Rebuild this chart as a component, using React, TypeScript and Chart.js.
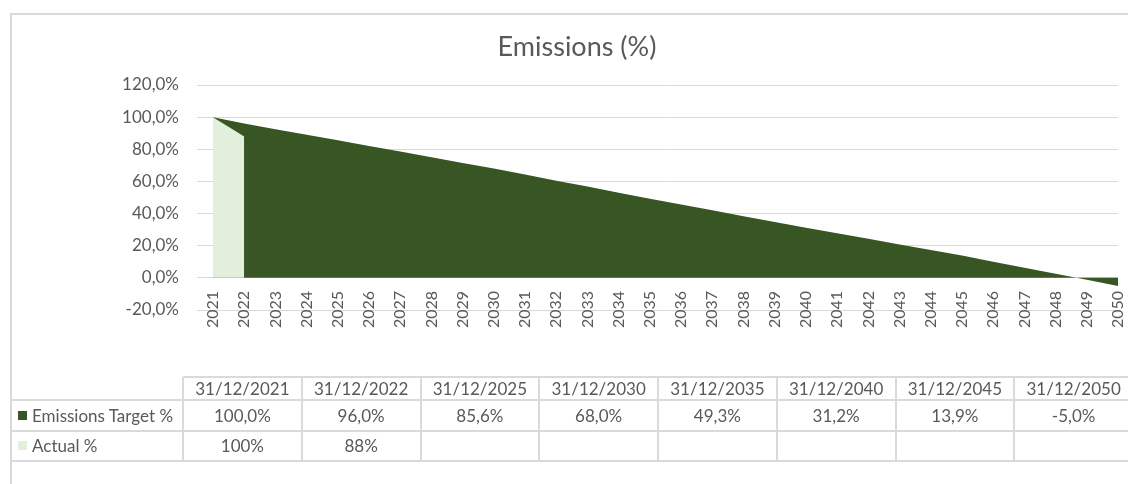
import React, { useEffect, useRef } from 'react';
import { Chart, registerables } from 'chart.js';

Chart.register(...registerables);

// ---- Data ----
const years = [
  '2021', '2022', '2023', '2024', '2025', '2026', '2027', '2028', '2029', '2030',
  '2031', '2032', '2033', '2034', '2035', '2036', '2037', '2038', '2039', '2040',
  '2041', '2042', '2043', '2044', '2045', '2046', '2047', '2048', '2049', '2050',
];
const targetPct = [
  100.0, 96.0, 92.5, 89.1, 85.6, 82.1, 78.6, 75.0, 71.5, 68.0,
  64.3, 60.5, 56.8, 53.0, 49.3, 45.7, 42.1, 38.4, 34.8, 31.2,
  27.7, 24.3, 20.8, 17.4, 13.9, 10.1, 6.3, 2.6, -1.2, -5.0,
];
const actualPct = [
  100, 88, null, null, null, null, null, null, null, null,
  null, null, null, null, null, null, null, null, null, null,
  null, null, null, null, null, null, null, null, null, null,
];
const yMin = -20;
const yMax = 120;
const yStep = 20;

const tableDates = [
  '31/12/2021', '31/12/2022', '31/12/2025', '31/12/2030',
  '31/12/2035', '31/12/2040', '31/12/2045', '31/12/2050',
];
const tableTarget = [100.0, 96.0, 85.6, 68.0, 49.3, 31.2, 13.9, -5.0];
const tableActual = [100, 88];
const seriesNames = ['Emissions Target %', 'Actual %'];
const chartTitle = 'Emissions (%)';

// ---- Styles ----
const DARK = '#375623';
const LIGHT = '#E2EFDA';
const TEXT = '#595959';
const GRID = '#D9D9D9';
const LINE = '#DADADA';
const FONT = 'Lato, "Open Sans", sans-serif';

const fmt1 = (v: number) => v.toFixed(1).replace('.', ',') + '%';
const fmt0 = (v: number) => v.toFixed(0) + '%';

function EmissionsChart() {
  const ref = useRef<HTMLCanvasElement | null>(null);
  useEffect(() => {
    if (!ref.current) return;
    const chart = new Chart(ref.current, {
      type: 'line',
      data: {
        labels: years,
        datasets: [
          {
            label: seriesNames[0],
            data: targetPct,
            fill: 'origin',
            backgroundColor: DARK,
            borderColor: DARK,
            borderWidth: 0,
            pointRadius: 0,
            pointHoverRadius: 0,
            tension: 0,
            order: 1,
          },
          {
            label: seriesNames[1],
            data: actualPct as any,
            fill: 'origin',
            backgroundColor: LIGHT,
            borderColor: LIGHT,
            borderWidth: 0,
            pointRadius: 0,
            pointHoverRadius: 0,
            tension: 0,
            spanGaps: false,
            order: 0,
          },
        ],
      },
      options: {
        animation: false,
        responsive: false,
        events: [],
        layout: { padding: { left: 10, right: 10, top: 85, bottom: 60 } },
        plugins: {
          legend: { display: false },
          tooltip: { enabled: false },
          title: { display: false },
        },
        scales: {
          x: {
            position: { y: 0 } as any,
            offset: false,
            grid: { display: false, drawTicks: false },
            border: { display: false },
            ticks: {
              autoSkip: false,
              minRotation: 90,
              maxRotation: 90,
              padding: 13,
              color: TEXT,
              font: { family: FONT, size: 16 },
            },
            afterFit: (s: any) => {
              s.paddingRight = 0;
              s.paddingLeft = 0;
            },
          },
          y: {
            min: yMin,
            max: yMax,
            grid: { color: GRID, lineWidth: 1, drawTicks: true, tickLength: 16 },
            border: { display: false },
            ticks: {
              stepSize: yStep,
              padding: 18,
              color: TEXT,
              font: { family: FONT, size: 17 },
              callback: (v: any) => fmt1(Number(v)),
            },
            afterFit: (s: any) => {
              s.width = 203;
            },
          },
        },
      },
    });
    return () => chart.destroy();
  }, []);
  return (
    <canvas
      ref={ref}
      width={1128}
      height={370}
      style={{ position: 'absolute', left: 0, top: 0, width: 1128, height: 370 }}
    />
  );
}

export default function App() {
  const colLeft = 183;
  const colW = 118.75;
  const yHeadTop = 377;
  const yRow1 = 400;
  const yRow2 = 431;
  const yBottom = 461;
  const TABLE_FS = 17;
  const hLine = (top: number, left: number, key: string) => (
    <div
      key={key}
      style={{ position: 'absolute', left, top: top - 1, width: 1140 - left, height: 2, background: LINE }}
    />
  );
  const cells: React.ReactNode[] = [];
  tableDates.forEach((d, i) => {
    const left = colLeft + i * colW;
    cells.push(
      <div key={'v' + i} style={{ position: 'absolute', left: left - 1, top: yHeadTop, width: 2, height: yBottom - yHeadTop, background: LINE }} />
    );
    const cellStyle = (top: number, h: number): React.CSSProperties => ({
      position: 'absolute', left, top, width: colW, height: h, lineHeight: h + 'px',
      textAlign: 'center', color: TEXT, fontSize: TABLE_FS, whiteSpace: 'nowrap',
    });
    cells.push(<div key={'h' + i} style={cellStyle(yHeadTop, yRow1 - yHeadTop)}>{d}</div>);
    cells.push(<div key={'t' + i} style={cellStyle(yRow1, yRow2 - yRow1)}>{fmt1(tableTarget[i])}</div>);
    cells.push(
      <div key={'a' + i} style={cellStyle(yRow2, yBottom - yRow2)}>
        {i < tableActual.length ? fmt0(tableActual[i]) : ''}
      </div>
    );
  });
  cells.push(
    <div key="vlast" style={{ position: 'absolute', left: colLeft + tableDates.length * colW - 1, top: yHeadTop, width: 2, height: yBottom - yHeadTop, background: LINE }} />
  );

  const rowHead = (top: number, h: number, color: string, name: string, key: string) => (
    <div key={key} style={{ position: 'absolute', left: 12, top, width: colLeft - 12, height: h }}>
      <div style={{ position: 'absolute', left: 6, top: h / 2 - 5, width: 9, height: 9, background: color }} />
      <div style={{ position: 'absolute', left: 20, top: 0, height: h, lineHeight: h + 'px', color: TEXT, fontSize: TABLE_FS, whiteSpace: 'nowrap' }}>
        {name}
      </div>
    </div>
  );

  return (
    <div
      style={{
        position: 'absolute', left: 0, top: 0, width: 1128, height: 484,
        background: '#ffffff', overflow: 'hidden', fontFamily: FONT,
      }}
    >
      <EmissionsChart />
      {/* chart frame */}
      <div style={{ position: 'absolute', left: 10, top: 13, width: 1200, height: 2, background: LINE }} />
      <div style={{ position: 'absolute', left: 10, top: 13, width: 2, height: 500, background: LINE }} />
      {/* title */}
      <div
        style={{
          position: 'absolute', left: 10, top: 30, width: 1134, textAlign: 'center',
          fontSize: 27, lineHeight: '32px', color: TEXT, whiteSpace: 'nowrap',
        }}
      >
        {chartTitle}
      </div>
      {/* data table */}
      {hLine(yHeadTop, colLeft, 'l0')}
      {hLine(yRow1, 10, 'l1')}
      {hLine(yRow2, 10, 'l2')}
      {hLine(yBottom, 10, 'l3')}
      {cells}
      {rowHead(yRow1, yRow2 - yRow1, DARK, seriesNames[0], 'r0')}
      {rowHead(yRow2, yBottom - yRow2, LIGHT, seriesNames[1], 'r1')}
    </div>
  );
}
